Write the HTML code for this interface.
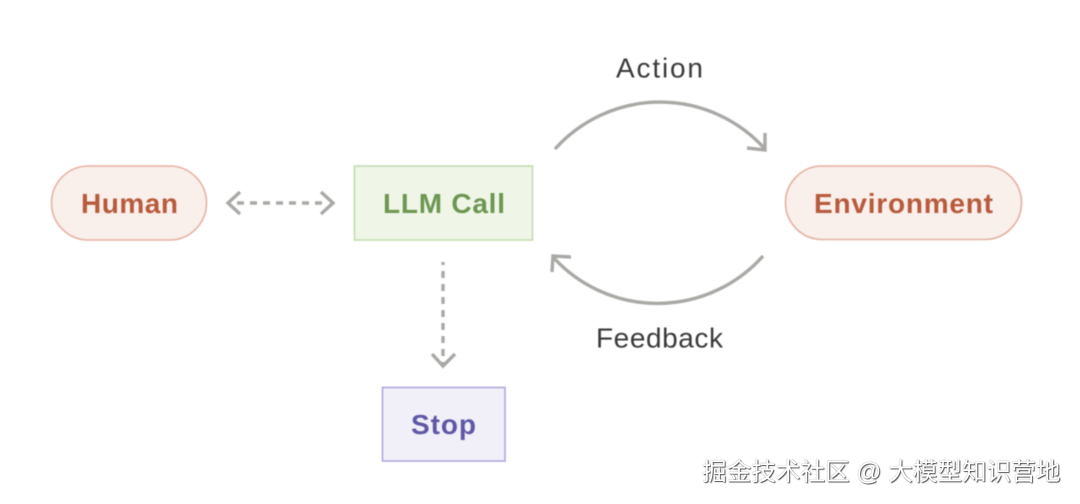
<!DOCTYPE html>
<html>
<head>
<meta charset="utf-8">
<style>
html,body{margin:0;padding:0;background:#fff;width:1080px;height:504px;overflow:hidden}
svg{display:block;position:absolute;left:0;top:0;filter:blur(.4px)}
text{font-family:"Liberation Sans",sans-serif}
.wm{position:absolute;left:702px;top:459px;width:370px;white-space:nowrap;font-family:"Liberation Sans","Noto Sans CJK SC",sans-serif;font-size:24.6px;line-height:28px;color:#fff;text-shadow:1px 1px 1px #555,0 0 1px #777}
</style>
</head>
<body>
<svg width="1080" height="504" viewBox="0 0 1080 504" xmlns="http://www.w3.org/2000/svg">
  <rect x="51.5" y="166" width="155" height="74" rx="37" fill="#f9efeb" stroke="#e6b3a3" stroke-width="1.6"/>
  <text x="81" y="213" font-size="28" font-weight="700" fill="#b85a3c" textLength="97" lengthAdjust="spacing">Human</text>

  <rect x="354.5" y="166" width="178" height="74" fill="#eff6e8" stroke="#c5ddb1" stroke-width="1.6"/>
  <text x="383" y="213" font-size="28" font-weight="700" fill="#6e9652" textLength="122" lengthAdjust="spacing">LLM Call</text>

  <rect x="785.5" y="166" width="236" height="73.5" rx="36.7" fill="#f9efeb" stroke="#e3b3a2" stroke-width="1.6"/>
  <text x="814" y="213" font-size="28" font-weight="700" fill="#b85a3c" textLength="179" lengthAdjust="spacing">Environment</text>

  <rect x="382.5" y="387.5" width="122.5" height="73.5" fill="#f1f0f9" stroke="#aea9dc" stroke-width="1.6"/>
  <text x="411" y="434" font-size="28" font-weight="700" fill="#5f58a5" textLength="65" lengthAdjust="spacing">Stop</text>

  <text x="616" y="77.5" font-size="28" fill="#3a3a3a" textLength="87" lengthAdjust="spacing">Action</text>
  <text x="596" y="347.5" font-size="28" fill="#3a3a3a" textLength="127" lengthAdjust="spacing">Feedback</text>

  <g fill="none" stroke="#aaa9a6" stroke-width="3.4">
    <path d="M555 149 A141 141 0 0 1 765 149"/>
    <path d="M765 133 L765 150 L747 148"/>
    <path d="M763 256 A141 141 0 0 1 553 257"/>
    <path d="M552 272 L553 256 L571 257"/>
    <path d="M240 192 L228 203 L240 214"/>
    <path d="M321 192 L333 203 L321 214"/>
    <path d="M237 203 H326" stroke-dasharray="7 6"/>
    <path d="M443 262 V364" stroke-dasharray="7 6" stroke-dashoffset="4"/>
    <path d="M432 354 L443 366 L455 354"/>
  </g>
</svg>
<div class="wm">掘金技术社区 @ 大模型知识营地</div>
</body>
</html>
